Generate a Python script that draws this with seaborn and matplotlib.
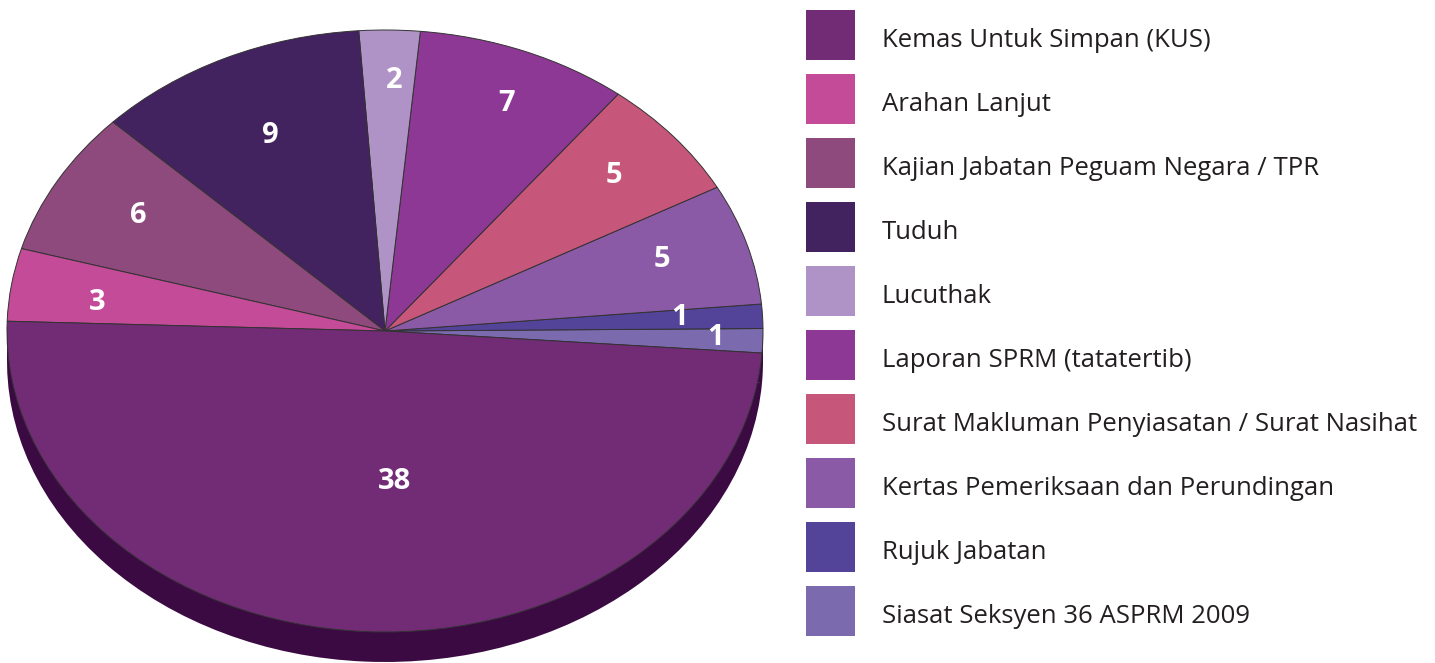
import matplotlib
matplotlib.use('Agg')
import matplotlib.pyplot as plt
import seaborn as sns
import numpy as np
from matplotlib.patches import Rectangle

# data, in the order the slices run counter-clockwise from the right
categories = ['Siasat Seksyen 36 ASPRM 2009', 'Rujuk Jabatan',
              'Kertas Pemeriksaan dan Perundingan',
              'Surat Makluman Penyiasatan / Surat Nasihat',
              'Laporan SPRM (tatatertib)', 'Lucuthak', 'Tuduh',
              'Kajian Jabatan Peguam Negara / TPR', 'Arahan Lanjut',
              'Kemas Untuk Simpan (KUS)']
values = [1, 1, 5, 5, 7, 2, 9, 6, 3, 38]
colors = ['#7b6aae', '#534399', '#8b5aa6', '#c7577a', '#8e3896',
          '#b093c6', '#432260', '#8f4a7d', '#c44b97', '#722c76']
side_color = '#3b0a42'
# label placement (radius, angle nudge in degrees)
label_r = [0.876, 0.78, 0.77, 0.795, 0.82, 0.834, 0.718, 0.758, 0.768, 0.5]
label_dang = [0.4, 0.4, 1.0, 0.3, -1.3, -0.9, 0, -0.6, 1.7, 6.0]

# legend order (top to bottom)
legend_order = ['Kemas Untuk Simpan (KUS)', 'Arahan Lanjut',
                'Kajian Jabatan Peguam Negara / TPR', 'Tuduh', 'Lucuthak',
                'Laporan SPRM (tatatertib)',
                'Surat Makluman Penyiasatan / Surat Nasihat',
                'Kertas Pemeriksaan dan Perundingan', 'Rujuk Jabatan',
                'Siasat Seksyen 36 ASPRM 2009']

sns.set_theme(style='white')
plt.rcParams['font.family'] = ['Open Sans', 'DejaVu Sans']

W, H = 1435, 663
fig = plt.figure(figsize=(W / 100, H / 100), dpi=100)

# pie axes: ellipse spans x 7..763, y 30..632 px, plus 30 px of depth
depth = 30 / 301
ax = fig.add_axes([7 / W, (H - 662) / H, 756 / W, 632 / H])
start = -4.2

# side wall (shifted copy + band)
ax.add_patch(Rectangle((-1, -depth), 2, depth, facecolor=side_color,
                       edgecolor='none', zorder=0))
ax.pie(values, colors=[side_color] * len(values), startangle=start,
       center=(0, -depth), radius=1,
       wedgeprops=dict(edgecolor='none', linewidth=0))
wedges, _ = ax.pie(values, colors=colors, startangle=start, radius=1,
                   wedgeprops=dict(edgecolor='#333333', linewidth=0.7))

total = sum(values)
ang = start
for v, r, d in zip(values, label_r, label_dang):
    span = v / total * 360
    mid = np.deg2rad(ang + span / 2 + d)
    ax.text(r * np.cos(mid), r * np.sin(mid), str(v), ha='center',
            va='center', color='white', fontsize=21, fontweight='bold')
    ang += span

ax.set_aspect('auto')
ax.set_xlim(-1, 1)
ax.set_ylim(-1 - depth, 1)
ax.axis('off')

# legend
lax = fig.add_axes([806 / W, (H - 643) / H, 629 / W, 640 / H])
lax.set_xlim(0, 629)
lax.set_ylim(len(legend_order), 0)
lax.axis('off')
for i, name in enumerate(legend_order):
    c = colors[categories.index(name)]
    lax.add_patch(Rectangle((0, i + 0.5 - 0.383), 49, 0.766,
                            facecolor=c, edgecolor='none'))
    lax.text(76, i + 0.68, name, ha='left', va='baseline', fontsize=18.5,
             color='#231f20')

fig.savefig('out.png', dpi=100)
